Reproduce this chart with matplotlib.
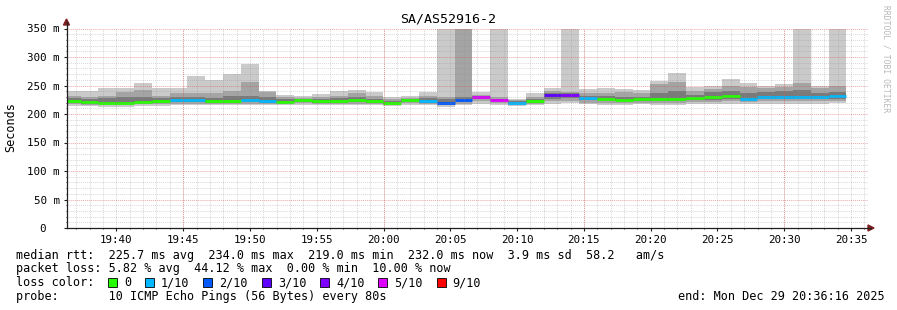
import numpy as np
import matplotlib
matplotlib.use("Agg")
import matplotlib.pyplot as plt
from matplotlib.lines import Line2D
from matplotlib.patches import Rectangle, Polygon

plt.rcParams['font.family'] = ['DejaVu Sans Mono']

# chart data (ms), one entry per 80 s bin
title = "SA/AS52916-2"
first_bin = "19:35:59"
step_s = 80
view_start = "19:36:16"
view_end = "20:36:16"

# outer smoke band (min .. max ping)
hi1 = [240, 240, 246, 246, 254, 245, 245, 267, 259, 270, 287, 240, 233, 231, 235, 240,
       242, 238, 229, 231, 239, 400, 400, 238, 400, 226, 236, 245, 400, 243, 246, 244,
       242, 258, 272, 247, 250, 261, 254, 250, 252, 400, 249, 400]
lo1 = [214, 214, 213, 213, 214, 214, 215, 215, 215, 215, 215, 215, 215, 216, 216, 215,
       215, 216, 214, 216, 215, 212, 215, 218, 216, 214, 216, 218, 219, 217, 216, 216,
       217, 216, 216, 217, 217, 218, 217, 218, 218, 218, 218, 219]
# second band
hi2 = [232, 229, 232, 239, 242, 231, 237, 236, 237, 241, 257, 238, 229, 228, 229, 232,
       237, 232, 226, 228, 232, 230, 400, 233, 229, 224, 230, 240, 238, 236, 236, 238,
       236, 252, 257, 241, 244, 250, 247, 246, 248, 254, 245, 250]
lo2 = [217, 216, 215, 215, 217, 217, 218, 218, 217, 217, 218, 217, 217, 219, 218, 217,
       218, 218, 216, 219, 217, 215, 218, 222, 219, 216, 218, 222, 223, 220, 220, 219,
       220, 219, 219, 221, 221, 222, 221, 222, 222, 222, 222, 223]
# inner band
hi3 = [228, 227, 228, 230, 230, 228, 230, 229, 228, 232, 232, 229, 226, 226, 226, 228,
       229, 227, 223, 226, 228, 226, 230, 231, 227, 222, 226, 236, 236, 231, 231, 230,
       230, 236, 240, 234, 238, 240, 237, 238, 240, 242, 236, 238]
lo3 = [219, 218, 217, 217, 219, 219, 221, 221, 220, 220, 221, 219, 219, 221, 220, 220,
       221, 220, 218, 221, 219, 217, 221, 226, 222, 218, 220, 226, 228, 224, 224, 222,
       223, 222, 222, 224, 225, 227, 224, 226, 226, 226, 226, 227]
median = [222, 221, 219, 219, 221, 222, 224, 224, 222, 223, 224, 222, 221, 224, 223, 222,
          224, 223, 220, 224, 222, 219, 224, 230, 225, 220, 223, 233, 234, 228, 227, 225,
          226, 226, 227, 228, 230, 232, 227, 230, 230, 230, 229, 232]
# lost pings out of 10
loss = [0, 0, 0, 0, 0, 0, 1, 1, 0, 0, 1, 1, 0, 0, 0, 0,
        0, 0, 0, 0, 1, 2, 2, 5, 5, 1, 0, 3, 4, 1, 0, 0,
        0, 0, 0, 0, 0, 0, 1, 1, 1, 1, 1, 1]

loss_keys = [0, 1, 2, 3, 4, 5, 9]
loss_labels = ["0", "1/10", "2/10", "3/10", "4/10", "5/10", "9/10"]
loss_hex = ["#26ff00", "#00b8ff", "#0059ff", "#5e00ff", "#7e00ff", "#dd00ff", "#ff0000"]
loss_colors = dict(zip(loss_keys, loss_hex))

rtt_line = "median rtt:  225.7 ms avg  234.0 ms max  219.0 ms min  232.0 ms now  3.9 ms sd  58.2   am/s"
loss_line = "packet loss: 5.82 % avg  44.12 % max  0.00 % min  10.00 % now"
probe_line = "probe:       10 ICMP Echo Pings (56 Bytes) every 80s"
end_line = "end: Mon Dec 29 20:36:16 2025"


def secs(hms):
    h, m, s = [int(v) for v in hms.split(":")]
    return h * 3600 + m * 60 + s


W, H = 897, 310


def px(x, y):
    return x / W, 1 - y / H


starts = secs(first_bin) + step_s * np.arange(len(median))
x0, x1 = secs(view_start), secs(view_end)

fig = plt.figure(figsize=(W / 100, H / 100), dpi=100)
fig.patch.set_facecolor("white")
L, R, T, B = 66.5, 868, 28.5, 228
ax = fig.add_axes([L / W, 1 - B / H, (R - L) / W, (B - T) / H])

# smoke
for hi, lo, c in [(hi1, lo1, "#cacaca"), (hi2, lo2, "#a4a4a4"), (hi3, lo3, "#7a7a7a")]:
    ax.bar(starts, np.array(hi) - np.array(lo), bottom=lo, width=step_s, align="edge",
           color=c, linewidth=0, zorder=1)

# median line coloured by loss
ax.hlines(median, starts, starts + step_s, colors=[loss_colors[l] for l in loss],
          linewidth=2.0, zorder=2)

ax.set_xlim(x0, x1)
ax.set_ylim(0, 350)

# grid
first_tick = (x0 // 300 + 1) * 300
ax.set_xticks(np.arange(first_tick, x1, 300))
ax.set_xticklabels(["%02d:%02d" % (t // 3600, (t % 3600) // 60) for t in np.arange(first_tick, x1, 300)])
ax.set_xticks(np.arange((x0 // 60 + 1) * 60, x1, 60), minor=True)
ax.set_yticks(np.arange(0, 351, 50))
ax.set_yticklabels(["0  "] + ["%d m" % v for v in range(50, 351, 50)])
ax.set_yticks(np.arange(0, 351, 10), minor=True)
ax.set_axisbelow(False)
dot = (0, (1, 1))
ax.grid(which="both", axis="x", color="#8f8f8f", alpha=0.35, linestyle=dot, linewidth=0.7)
ax.grid(which="minor", axis="y", color="#8f8f8f", alpha=0.35, linestyle=dot, linewidth=0.7)
ax.grid(which="major", axis="y", color="#de5050", alpha=0.5, linestyle=dot, linewidth=0.7)
for t in np.arange((x0 // 900 + 1) * 900, x1, 900):
    ax.axvline(t, color="#de5050", alpha=0.5, linestyle=dot, linewidth=0.7, zorder=3)

ax.tick_params(axis="both", which="major", length=2, color="#1f1f1f", labelsize=7.8, pad=3)
ax.tick_params(axis="both", which="minor", length=1, color="#1f1f1f")
for s in ["top", "right", "left", "bottom"]:
    ax.spines[s].set_visible(False)

# axes with arrows
axis_c = "#1f1f1f"
arrow_c = "#7f1f1f"
fig.add_artist(Line2D([L / W, 871 / W], [1 - B / H, 1 - B / H], color=axis_c, linewidth=0.9))
fig.add_artist(Line2D([L / W, L / W], [1 - B / H, 1 - 22 / H], color=axis_c, linewidth=0.9))
fig.add_artist(Polygon([px(868, 225), px(874, 228), px(868, 231)], closed=True,
                       color=arrow_c, transform=fig.transFigure))
fig.add_artist(Polygon([px(63.5, 25), px(66.5, 19), px(69.5, 25)], closed=True,
                       color=arrow_c, transform=fig.transFigure))

# texts
fig.text(*px(448, 19), title, ha="center", va="center", fontsize=9.5)
fig.text(*px(11, 127), "Seconds", rotation=90, ha="center", va="center", fontsize=8.5)
fig.text(*px(886, 5), "RRDTOOL / TOBI OETIKER", rotation=270, ha="center", va="top",
         fontsize=5.8, color="#b8b8b8")

fs = 8.5
fig.text(*px(16, 255), rtt_line, va="center", fontsize=fs)
fig.text(*px(16, 268.5), loss_line, va="center", fontsize=fs)
fig.text(*px(16, 282.5), "loss color:", va="center", fontsize=fs)
fig.text(*px(16, 296.5), probe_line, va="center", fontsize=fs)
fig.text(*px(678, 296.5), end_line, va="center", fontsize=fs)

cw = 7.08
bx = 108
for lab, col in zip(loss_labels, loss_hex):
    fig.add_artist(Rectangle(px(bx, 287), 9 / W, 9 / H, facecolor=col, edgecolor="black",
                             linewidth=0.6, transform=fig.transFigure))
    fig.text(*px(bx + 16, 282.5), lab, va="center", fontsize=fs)
    bx += 16 + len(lab) * cw + 14

fig.savefig("out.png", dpi=100, facecolor="white")
